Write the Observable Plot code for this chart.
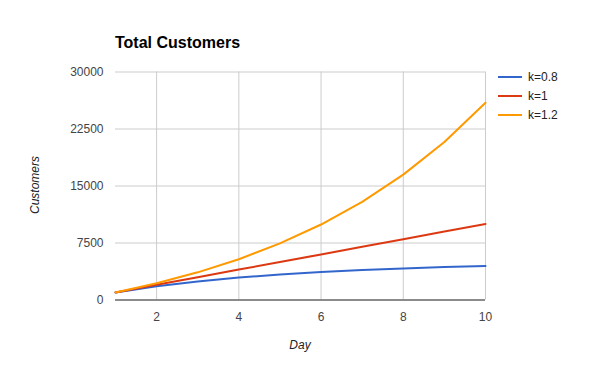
<!DOCTYPE html>
<html>
<head>
<meta charset="utf-8">
<script src="https://cdn.jsdelivr.net/npm/d3@7"></script>
<script src="https://cdn.jsdelivr.net/npm/@observablehq/plot@0.6"></script>
<style>
  body { margin: 0; background: #fff; }
  #wrap { position: relative; width: 600px; height: 371px; font-family: Arial, "Liberation Sans", sans-serif; }
  #title { position: absolute; left: 115px; top: 34px; font-size: 16px; font-weight: bold; color: #000; }
  #legend { position: absolute; left: 498px; top: 67px; font-size: 12px; color: #222; }
  .item { display: flex; align-items: center; height: 19px; }
  .sw { width: 24px; height: 2px; margin-right: 6px; }
  #ylab { position: absolute; left: 35px; top: 185px; transform: translate(-50%, -50%) rotate(-90deg); font-size: 12px; font-style: italic; color: #222; white-space: nowrap; }
  #xlab { position: absolute; left: 300px; top: 345px; transform: translate(-50%, -50%); font-size: 12px; font-style: italic; color: #222; }
  svg { position: absolute; left: 0; top: 0; }
</style>
</head>
<body>
<div id="wrap">
  <div id="title">Total Customers</div>
  <div id="ylab">Customers</div>
  <div id="xlab">Day</div>
  <div id="legend"></div>
</div>
<script>
const days = [1, 2, 3, 4, 5, 6, 7, 8, 9, 10];
const seriesNames = ["k=0.8", "k=1", "k=1.2"];
const seriesColors = ["#3366cc", "#dc3912", "#ff9900"];
const k08 = [1000, 1800, 2440, 2952, 3362, 3689, 3951, 4161, 4329, 4463];
const k10 = [1000, 2000, 3000, 4000, 5000, 6000, 7000, 8000, 9000, 10000];
const k12 = [1000, 2200, 3640, 5368, 7442, 9930, 12916, 16499, 20799, 25959];
const xTicks = [2, 4, 6, 8, 10];
const yTicks = [0, 7500, 15000, 22500, 30000];

const seriesValues = [k08, k10, k12];
const data = [];
seriesNames.forEach((name, i) => {
  days.forEach((d, j) => data.push({day: d, value: seriesValues[i][j], series: name}));
});

const chart = Plot.plot({
  width: 600,
  height: 371,
  marginLeft: 115,
  marginRight: 115,
  marginTop: 71.5,
  marginBottom: 71.5,
  style: {fontFamily: "Arial, 'Liberation Sans', sans-serif", fontSize: "12px", color: "#444", background: "transparent"},
  x: {domain: [1, 10], ticks: xTicks, tickSize: 0, tickPadding: 12, label: null},
  y: {domain: [0, 30000], ticks: yTicks, tickSize: 0, tickPadding: 12, label: null, tickFormat: d => String(d)},
  color: {domain: seriesNames, range: seriesColors},
  marks: [
    Plot.gridY(yTicks, {stroke: "#cccccc", strokeOpacity: 1}),
    Plot.gridX(xTicks, {stroke: "#cccccc", strokeOpacity: 1}),
    Plot.ruleY([0], {stroke: "#333333", strokeWidth: 1}),
    Plot.line(data, {x: "day", y: "value", z: "series", stroke: "series", strokeWidth: 2})
  ]
});
document.getElementById("wrap").appendChild(chart);

const legend = document.getElementById("legend");
seriesNames.forEach((name, i) => {
  const it = document.createElement("div");
  it.className = "item";
  const sw = document.createElement("div");
  sw.className = "sw";
  sw.style.background = seriesColors[i];
  const t = document.createElement("span");
  t.textContent = name;
  it.appendChild(sw); it.appendChild(t);
  legend.appendChild(it);
});
</script>
</body>
</html>
